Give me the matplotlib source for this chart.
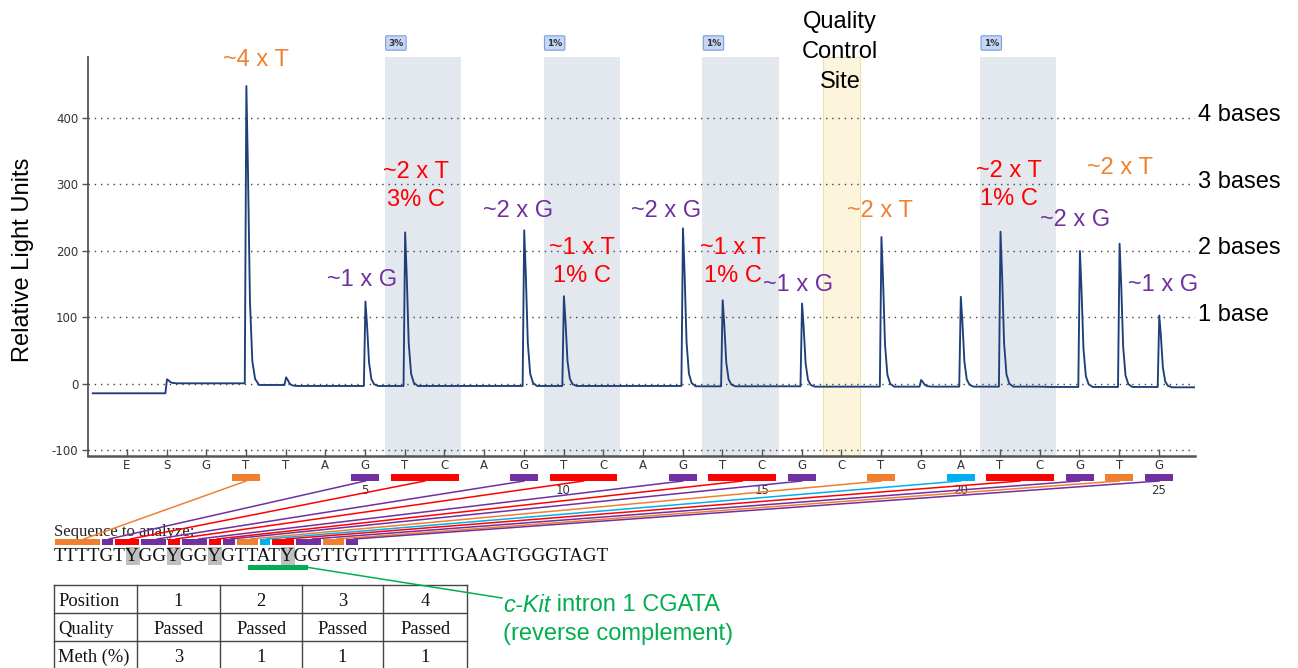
import numpy as np
import matplotlib
matplotlib.use('Agg')
import matplotlib.pyplot as plt
from matplotlib.patches import Rectangle, FancyBboxPatch
from matplotlib.font_manager import FontProperties

plt.rcParams['font.family'] = 'Liberation Sans'
plt.rcParams['axes.unicode_minus'] = False

W, H = 1298, 668

# pyrogram data
dispensation = list('ESGTTAGTCAGTCAGTCGCTGATCGTG')
disp_pos = np.arange(-1, 26)
peak_rlu = [0, 7, 0, 448, 10, 0, 124, 228, 0, 0, 231, 132, 0, 0, 234, 126,
            0, 121, 0, 221, 6, 131, 229, 0, 200, 211, 103]
baseline_rlu = [-14, 1, 1, -1.5, -3, -3, -3, -3, -3, -3, -3, -3, -3, -3,
                -3.5, -3.5, -3.5, -4, -4, -4, -4, -4, -4, -4.5, -4.5, -4.5, -5]
start_rlu = -14

cpg_sites = [(6, 7), (10, 11), (14, 15), (21, 22)]   # T/C dispensation pairs
qc_site = 17
base_levels = [4, 3, 2, 1]

# table
positions = [1, 2, 3, 4]
quality = ['Passed', 'Passed', 'Passed', 'Passed']
meth_pct = [3, 1, 1, 1]

sequence = 'TTTTGTYGGYGGYGTTATYGGTTGTTTTTTTTGAAGTGGGTAGT'
y_sites = [6, 9, 12, 18]
kit_span = (15, 20)

# dispensation range -> sequence char range
links = [
    (2, 2, 'orange', 0, 4), (5, 5, 'purple', 4, 5), (6, 7, 'red', 5, 7),
    (9, 9, 'purple', 7, 9), (10, 11, 'red', 9, 10), (13, 13, 'purple', 10, 12),
    (14, 15, 'red', 12, 13), (16, 16, 'purple', 13, 14), (18, 18, 'orange', 14, 16),
    (20, 20, 'cyan', 16, 17), (21, 22, 'red', 17, 19), (23, 23, 'purple', 19, 21),
    (24, 24, 'orange', 21, 23), (25, 25, 'purple', 23, 24),
]

COL = {'orange': '#F0802F', 'purple': '#7030A0', 'red': '#FF0000',
       'cyan': '#00B0F0', 'green': '#00B050'}

# peak shape template (offset in dispensations, fraction of height)
shape_dx = [-0.03, 0.01, 0.05, 0.1, 0.16, 0.23, 0.33]
shape_f = [0.0, 1.0, 0.72, 0.28, 0.08, 0.02, 0.0]

fig = plt.figure(figsize=(W / 100, H / 100), dpi=100)
ax = fig.add_axes([88 / W, (H - 456) / H, (1195 - 88) / W, (456 - 57) / H])
ax.set_xlim(-1.98, 25.91)
ax.set_ylim(-108.3, 491.7)

# trace
xs, ys = [-1.86], [start_rlu]
prev = start_rlu
for p, h, b in zip(disp_pos, peak_rlu, baseline_rlu):
    if h == 0:
        xs += [p - 0.02, p + 0.3]
        ys += [prev, b]
    else:
        for dx, f in zip(shape_dx, shape_f):
            xs.append(p + dx)
            ys.append(prev if dx < 0 else b + (h - b) * f)
    prev = b
xs.append(25.91)
ys.append(prev)
ax.plot(xs, ys, color='#1F3F7A', lw=1.35, zorder=3)

for t, c in cpg_sites:
    ax.axvspan(t - 0.5, c + 0.42, color='#E3E8EE', lw=0, zorder=0)
ax.axvspan(qc_site - 0.46, qc_site + 0.47, facecolor='#FCF5DC',
           edgecolor='#EDE0B0', lw=0.8, zorder=0)

ax.set_yticks([-100, 0, 100, 200, 300, 400])
ax.yaxis.grid(True, linestyle=(0, (1, 3.5)), color='#444', lw=1)
ax.set_axisbelow(False)
for gl in ax.get_ygridlines():
    gl.set_zorder(1)
ax.set_xticks(disp_pos)
ax.set_xticklabels(dispensation)
for lab in ax.get_xticklabels() + ax.get_yticklabels():
    lab.set_family('DejaVu Sans')
    lab.set_fontsize(8.5)
    lab.set_color('#333')
ax.tick_params(axis='x', direction='in', length=5, width=1, color='#555', pad=2)
ax.tick_params(axis='y', direction='out', length=4, width=1, color='#555', pad=3)
ax.spines['top'].set_visible(False)
ax.spines['right'].set_visible(False)
ax.spines['left'].set_color('#555')
ax.spines['left'].set_linewidth(1.3)
ax.spines['bottom'].set_color('#555')
ax.spines['bottom'].set_linewidth(1.8)

for n in base_levels:
    ax.text(25.98, n * 100 + 4, f'{n} base' + ('s' if n > 1 else ''),
            fontsize=17, ha='left', va='center', clip_on=False)

# overlay in pixel coordinates
ov = fig.add_axes([0, 0, 1, 1])
ov.set_xlim(0, W)
ov.set_ylim(H, 0)
ov.axis('off')
ov.set_zorder(2)

ov.text(23, 260, 'Relative Light Units', fontsize=17, rotation=90,
        ha='center', va='center')


def px_x(v):
    return ax.transData.transform((v, 0))[0]


for (t, c), m in zip(cpg_sites, meth_pct):
    x0 = px_x(t - 0.5)
    ov.add_patch(FancyBboxPatch((x0 + 2, 37), 18, 12, boxstyle='round,pad=1.2',
                                facecolor='#C5D7F7', edgecolor='#7E9CD6', lw=0.8))
    ov.text(x0 + 11, 43.5, f'{m}%', fontsize=6.5, color='#333', ha='center',
            va='center', family='DejaVu Sans', weight='bold')

for p in disp_pos:
    if p > 0 and p % 5 == 0:
        ov.text(px_x(p), 490, str(p), fontsize=8.5, color='#333', ha='center',
                va='center', family='DejaVu Sans')

notes = [
    ('~4 x T', 'orange', 256, 60), ('~2 x T\n3% C', 'red', 416, 186),
    ('~1 x G', 'purple', 362, 280), ('~2 x G', 'purple', 518, 211),
    ('~1 x T\n1% C', 'red', 582, 262), ('~2 x G', 'purple', 666, 211),
    ('~1 x T\n1% C', 'red', 733, 262), ('~1 x G', 'purple', 798, 285),
    ('~2 x T', 'orange', 880, 211), ('~2 x T\n1% C', 'red', 1009, 185),
    ('~2 x G', 'purple', 1075, 220), ('~2 x T', 'orange', 1120, 168),
    ('~1 x G', 'purple', 1163, 285),
]
for txt, c, x, y in notes:
    ov.text(x, y, txt, color=COL[c], fontsize=17, ha='center', va='center',
            linespacing=1.4)
ov.text(840, 52, 'Quality\nControl\nSite', color='black', fontsize=17,
        ha='center', va='center', linespacing=1.47)

# sequence
renderer = fig.canvas.get_renderer()
fp_seq = FontProperties(family='Liberation Serif', size=13.75)
seq_x = 54
edges = [seq_x]
for k in range(1, len(sequence) + 1):
    w = renderer.get_text_width_height_descent(sequence[:k], fp_seq, ismath=False)[0]
    edges.append(seq_x + w)

for i in y_sites:
    ov.add_patch(Rectangle((edges[i], 547), edges[i + 1] - edges[i], 18,
                           color='#BFBFBF', lw=0, zorder=1))
ov.text(seq_x, 560.7, sequence, fontproperties=fp_seq, color='#111',
        ha='left', va='baseline', zorder=2)
ov.text(seq_x, 535.7, 'Sequence to analyze:', family='Liberation Serif',
        fontsize=12, color='#222', ha='left', va='baseline', zorder=2)

for d0, d1, c, s0, s1 in links:
    x0, x1 = px_x(d0 - 0.35), px_x(d1 + 0.36)
    ov.add_patch(Rectangle((x0, 474), x1 - x0, 7, color=COL[c], lw=0, zorder=3))
    a, b = edges[s0] + 1, edges[s1] - 1
    ov.add_patch(Rectangle((a, 539), b - a, 5.5, color=COL[c], lw=0, zorder=3))
    ov.plot([(x0 + x1) / 2, b - 0.35 * (b - a)], [481, 539], color=COL[c],
            lw=1.1, zorder=4)

k0, k1 = kit_span
ov.add_patch(Rectangle((edges[k0], 565), edges[k1] - edges[k0], 5,
                       color=COL['green'], lw=0, zorder=3))
ov.plot([edges[k1], 502], [567.5, 598], color=COL['green'], lw=1.1, zorder=3)
ov.text(503, 605, 'c-Kit', color=COL['green'], fontsize=17, style='italic',
        ha='left', va='center')
w_it = renderer.get_text_width_height_descent(
    'c-Kit', FontProperties(family='Liberation Sans', size=17, style='italic'),
    ismath=False)[0]
ov.text(503 + w_it, 605, ' intron 1 CGATA', color=COL['green'], fontsize=17,
        ha='left', va='center')
ov.text(503, 634, '(reverse complement)', color=COL['green'], fontsize=17,
        ha='left', va='center')

# table
col_x = [54, 137, 220, 302, 383, 467]
row_y = [585, 613, 641, 669]
for x in col_x:
    ov.plot([x, x], [row_y[0], row_y[-1]], color='#444', lw=1)
for y in row_y:
    ov.plot([col_x[0], col_x[-1]], [y, y], color='#444', lw=1)
rows = [('Position', positions), ('Quality', quality), ('Meth (%)', meth_pct)]
for r, (name, vals) in enumerate(rows):
    yc = (row_y[r] + row_y[r + 1]) / 2 + 2
    ov.text(col_x[0] + 4, yc, name, family='Liberation Serif', fontsize=13.3,
            ha='left', va='center', color='#111')
    for j, v in enumerate(vals):
        ov.text((col_x[j + 1] + col_x[j + 2]) / 2, yc, str(v),
                family='Liberation Serif', fontsize=13.3, ha='center',
                va='center', color='#111')

fig.savefig('out.png', dpi=100)
